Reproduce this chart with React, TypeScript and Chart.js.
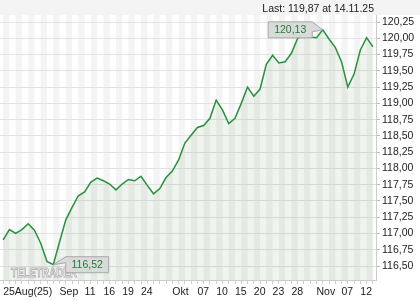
import React, { useEffect, useRef } from 'react';
import { Chart, registerables } from 'chart.js';

Chart.register(...registerables);

// Trading days 25.08.2025 – 14.11.2025
const dates: string[] = [
  '25.08', '26.08', '27.08', '28.08', '29.08',
  '01.09', '02.09', '03.09', '04.09', '05.09', '08.09', '09.09', '10.09', '11.09', '12.09',
  '15.09', '16.09', '17.09', '18.09', '19.09', '22.09', '23.09', '24.09', '25.09', '26.09',
  '29.09', '30.09',
  '01.10', '02.10', '03.10', '06.10', '07.10', '08.10', '09.10', '10.10', '13.10', '14.10',
  '15.10', '16.10', '17.10', '20.10', '21.10', '22.10', '23.10', '24.10', '27.10', '28.10',
  '29.10', '30.10', '31.10',
  '03.11', '04.11', '05.11', '06.11', '07.11', '10.11', '11.11', '12.11', '13.11', '14.11',
];

const values: number[] = [
  116.9, 117.06, 117.0, 117.06, 117.15,
  117.05, 116.85, 116.57, 116.52, 116.87, 117.21, 117.4, 117.58, 117.64, 117.79,
  117.85, 117.81, 117.76, 117.67, 117.76, 117.83, 117.81, 117.88, 117.74, 117.61,
  117.69, 117.86,
  117.96, 118.13, 118.39, 118.51, 118.63, 118.66, 118.77, 119.05, 118.9, 118.69,
  118.77, 119.0, 119.25, 119.11, 119.22, 119.6, 119.74, 119.62, 119.64, 119.77,
  120.0, 120.05, 120.02,
  120.01, 120.13, 119.99, 119.86, 119.64, 119.25, 119.45, 119.82, 120.01, 119.87,
];

const tickLabels: string[] = [
  '25Aug(25)', '', '', '', '',
  '', '', '', '', 'Sep', '', '', '', '11', '',
  '', '16', '', '', '19', '', '', '24', '', '',
  '', '',
  'Okt', '', '', '', '07', '', '', '10', '', '',
  '15', '', '', '20', '', '', '23', '', '', '28',
  '', '', '',
  'Nov', '', '', '', '07', '', '', '12', '', '',
];

const yTicks: number[] = [
  116.5, 116.75, 117.0, 117.25, 117.5, 117.75, 118.0, 118.25,
  118.5, 118.75, 119.0, 119.25, 119.5, 119.75, 120.0, 120.25,
];

const lastDateLabel = '14.11.25';

const fmt = (v: number) => v.toFixed(2).replace('.', ',');

const FONT = 'Arial, "Liberation Sans", sans-serif';
const GREEN = '#27913d';
const LABEL_GREEN = '#1f7f35';

function drawTextBox(
  ctx: CanvasRenderingContext2D,
  text: string,
  px: number,
  py: number,
  side: 'left' | 'right'
) {
  const w = side === 'left' ? 44 : 43;
  const h = 16;
  const top = py - 8;
  const bottom = top + h;
  ctx.save();
  ctx.beginPath();
  let left: number;
  let right: number;
  if (side === 'left') {
    right = px - 10.5;
    left = right - w;
    ctx.moveTo(left, top);
    ctx.lineTo(right, top);
    ctx.lineTo(px, py);
    ctx.lineTo(right, top + 10);
    ctx.lineTo(right, bottom);
    ctx.lineTo(left, bottom);
    ctx.closePath();
  } else {
    left = px + 12.4;
    right = left + w;
    ctx.moveTo(left, top);
    ctx.lineTo(right, top);
    ctx.lineTo(right, bottom);
    ctx.lineTo(left, bottom);
    ctx.lineTo(left, top + 6);
    ctx.lineTo(px, py);
    ctx.closePath();
  }
  ctx.fillStyle = '#dadada';
  ctx.fill();
  ctx.strokeStyle = '#a9a9a9';
  ctx.lineWidth = 1;
  ctx.stroke();
  ctx.fillStyle = LABEL_GREEN;
  ctx.font = `10.5px ${FONT}`;
  ctx.textAlign = 'center';
  ctx.textBaseline = 'middle';
  ctx.fillText(text, (left + right) / 2, py + 0.5);
  ctx.restore();
}

const decorPlugin = {
  id: 'decor',
  beforeDraw(chart: any) {
    const { ctx, chartArea: a, scales } = chart;
    const x = scales.x;
    ctx.save();
    ctx.fillStyle = '#ffffff';
    ctx.fillRect(0, 0, chart.width, chart.height);
    // header band
    ctx.fillStyle = '#f4f4f4';
    ctx.fillRect(0, 0, chart.width, a.top);
    // alternating stripes between data points
    for (let i = 0; i < values.length - 1; i += 2) {
      const x0 = x.getPixelForValue(i);
      const x1 = x.getPixelForValue(i + 1);
      ctx.fillRect(x0, a.top, x1 - x0, a.bottom - a.top);
    }
    // header text
    ctx.fillStyle = '#222';
    ctx.font = `10.5px ${FONT}`;
    ctx.textAlign = 'right';
    ctx.textBaseline = 'alphabetic';
    ctx.fillText(`Last: ${fmt(values[values.length - 1])} at ${lastDateLabel}`, 374, 11.5);
    ctx.restore();
  },
  afterDatasetsDraw(chart: any) {
    const { ctx, scales } = chart;
    const x = scales.x;
    const y = scales.y;
    // watermark
    ctx.save();
    ctx.font = `bold 13px ${FONT}`;
    ctx.textAlign = 'left';
    ctx.textBaseline = 'alphabetic';
    ctx.fillStyle = '#fbfbfb';
    ctx.strokeStyle = '#b4b4b4';
    ctx.lineWidth = 1;
    ctx.fillText('TELETRADER', 11, 276.5, 66);
    ctx.strokeText('TELETRADER', 11, 276.5, 66);
    ctx.restore();

    let maxI = 0;
    let minI = 0;
    values.forEach((v, i) => {
      if (v > values[maxI]) maxI = i;
      if (v < values[minI]) minI = i;
    });
    drawTextBox(ctx, fmt(values[maxI]), x.getPixelForValue(maxI), y.getPixelForValue(values[maxI]), 'left');
    drawTextBox(ctx, fmt(values[minI]), x.getPixelForValue(minI), y.getPixelForValue(values[minI]), 'right');
  },
};

export default function App() {
  const canvasRef = useRef<HTMLCanvasElement | null>(null);

  useEffect(() => {
    document.body.style.margin = '0';
    const canvas = canvasRef.current;
    if (!canvas) return;
    const chart = new Chart(canvas, {
      type: 'line',
      data: {
        labels: dates,
        datasets: [
          {
            label: 'Kurs',
            data: values.map((v, i) => ({ x: i, y: v })),
            borderColor: GREEN,
            borderWidth: 1.5,
            backgroundColor: 'rgba(55,120,45,0.08)',
            fill: 'start',
            pointRadius: 0,
            tension: 0,
          },
        ],
      },
      options: {
        animation: false,
        responsive: false,
        devicePixelRatio: 1,
        layout: { padding: { top: 15, left: 0, right: 0, bottom: 0 } },
        plugins: {
          legend: { display: false },
          tooltip: { enabled: false },
        },
        scales: {
          x: {
            type: 'linear',
            position: 'bottom',
            min: -0.5,
            max: values.length - 0.5,
            afterBuildTicks: (scale: any) => {
              scale.ticks = values.map((_, i) => ({ value: i }));
            },
            afterFit: (scale: any) => {
              scale.height = 20;
            },
            grid: {
              drawOnChartArea: false,
              drawTicks: true,
              tickLength: 4,
              tickColor: '#cfcfcf',
            },
            border: { display: true, color: '#cccccc' },
            ticks: {
              autoSkip: false,
              maxRotation: 0,
              minRotation: 0,
              align: 'start',
              padding: 1.5,
              color: '#222',
              font: { size: 10.5, family: FONT },
              callback: (v: any) => tickLabels[Math.round(Number(v))] ?? '',
            },
          },
          y: {
            type: 'linear',
            position: 'right',
            min: 116.285,
            max: 120.358,
            afterBuildTicks: (scale: any) => {
              scale.ticks = yTicks.map((v) => ({ value: v }));
            },
            afterFit: (scale: any) => {
              scale.width = 44;
            },
            grid: {
              color: '#e2e2e2',
              lineWidth: 1,
              drawTicks: true,
              tickLength: 4,
              tickColor: '#bbbbbb',
            },
            border: { display: true, color: '#cccccc' },
            ticks: {
              padding: 2,
              color: '#222',
              font: { size: 10.5, family: FONT },
              callback: (v: any) => fmt(Number(v)),
            },
          },
        },
      },
      plugins: [decorPlugin],
    } as any);
    return () => chart.destroy();
  }, []);

  return (
    <div style={{ position: 'absolute', left: 0, top: 0, width: 420, height: 300 }}>
      <canvas ref={canvasRef} width={420} height={300} style={{ display: 'block' }} />
    </div>
  );
}
